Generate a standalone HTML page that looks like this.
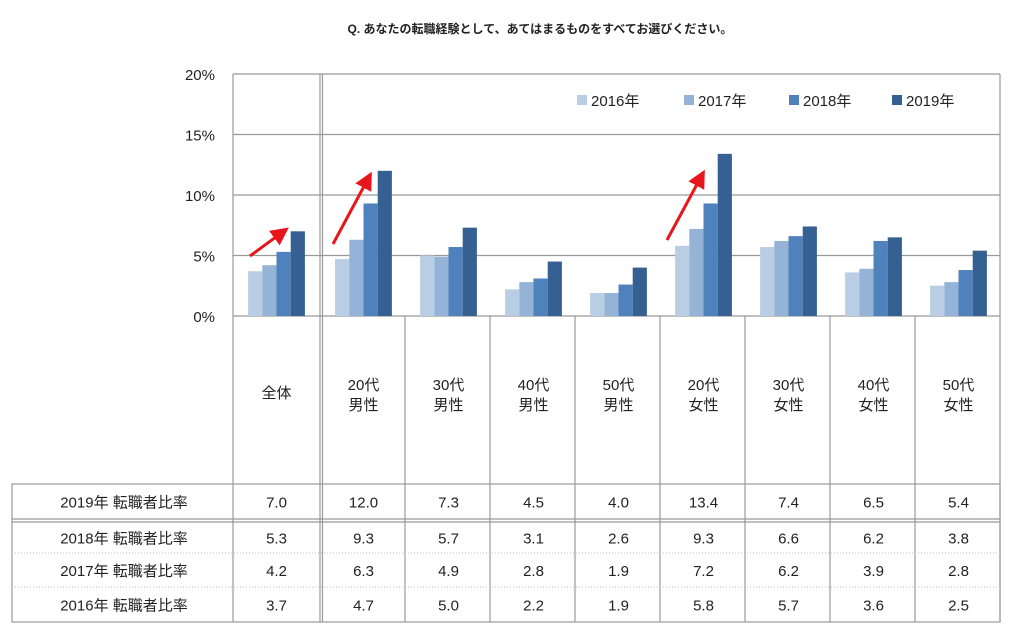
<!DOCTYPE html>
<html><head><meta charset="utf-8"><style>
body{margin:0;background:#fff;}
svg text{font-family:"Liberation Sans","Noto Sans CJK JP",sans-serif;fill:#222;}
</style></head><body>
<svg id="c" width="1024" height="637" viewBox="0 0 1024 637" xmlns="http://www.w3.org/2000/svg">
<text x="540" y="33" text-anchor="middle" font-size="12" font-weight="bold">Q.  あなたの転職経験として、あてはまるものをすべてお選びください。</text>
<g id="grid"></g><g id="bars"></g><g id="tbl"></g><g id="legend"></g>
<defs><marker id="ah" markerWidth="6" markerHeight="6" refX="4" refY="3" orient="auto"><path d="M0,0 L6,3 L0,6 z" fill="#e8161b"/></marker></defs>
<g stroke="#e8161b" stroke-width="3" marker-end="url(#ah)">
<line x1="250" y1="256" x2="284" y2="231"/>
<line x1="333" y1="244" x2="369" y2="177"/>
<line x1="667" y1="240" x2="702" y2="175"/>
</g>
</svg>
<script>
const categories=[["全体"],["20代","男性"],["30代","男性"],["40代","男性"],["50代","男性"],["20代","女性"],["30代","女性"],["40代","女性"],["50代","女性"]];
const seriesNames=["2016年","2017年","2018年","2019年"];
const s2016=[3.7,4.7,5.0,2.2,1.9,5.8,5.7,3.6,2.5];
const s2017=[4.2,6.3,4.9,2.8,1.9,7.2,6.2,3.9,2.8];
const s2018=[5.3,9.3,5.7,3.1,2.6,9.3,6.6,6.2,3.8];
const s2019=[7.0,12.0,7.3,4.5,4.0,13.4,7.4,6.5,5.4];
const yTicks=[0,5,10,15,20];
const colors=["#b9cde5","#95b3d7","#4f81bd","#376092"];
const NS="http://www.w3.org/2000/svg";
function mk(t,a,p){const e=document.createElementNS(NS,t);for(const k in a)e.setAttribute(k,a[k]);p.appendChild(e);return e;}
const bounds=[233,320];for(let i=1;i<=8;i++)bounds.push(320+i*(1000-320)/8);
const y=v=>316-v*(242/20);
const grid=document.getElementById('grid'),bars=document.getElementById('bars'),tbl=document.getElementById('tbl'),lg=document.getElementById('legend');
yTicks.forEach(t=>{
 const l=mk('line',{x1:233,x2:1000,y1:y(t),y2:y(t),stroke:'#999','stroke-width':1.3},grid);
 
 
 const tx=mk('text',{x:215,y:y(t)+6,'text-anchor':'end','font-size':15},grid);tx.textContent=t+'%';
 
 
});
// vertical lines
bounds.forEach((b,i)=>{
 const top=(i===0||i===1||i===9)?74:316;
 const l=mk('line',{x1:b,x2:b,y1:top,y2:622,stroke:'#999','stroke-width':1.2},grid);
 
 
 if(i===1){const l2=mk('line',{x1:b+2.5,x2:b+2.5,y1:74,y2:622,stroke:'#999','stroke-width':1.2},grid);
 
 }
});
const series=[s2016,s2017,s2018,s2019];
categories.forEach((c,i)=>{
 const x0=bounds[i]+(i===0?0:2),x1=bounds[i+1];const cx=(x0+x1)/2;const bw=14.2;
 series.forEach((s,k)=>{
  const r=mk('rect',{x:cx-2*bw+k*bw,y:y(s[i]),width:bw,height:316-y(s[i]),fill:colors[k]},bars);
  
  
 });
 c.forEach((ln,j)=>{const t=mk('text',{x:cx,y:(c.length===1?398:390)+j*20,'text-anchor':'middle','font-size':15},bars);t.textContent=ln;
 
 });
});
// table
const rows=[["2019年 転職者比率",s2019,484,519],["2018年 転職者比率",s2018,522,553],["2017年 転職者比率",s2017,553,587],["2016年 転職者比率",s2016,587,622]];
mk('rect',{x:12,y:484,width:988,height:138,fill:'none',stroke:'#999','stroke-width':1.2},tbl);
mk('line',{x1:12,x2:1000,y1:519,y2:519,stroke:'#999','stroke-width':1.2},tbl);
mk('line',{x1:12,x2:1000,y1:522,y2:522,stroke:'#999','stroke-width':1.2},tbl);
mk('line',{x1:12,x2:233,y1:484,y2:484,stroke:'#999'},tbl);
[553,587].forEach(v=>mk('line',{x1:12,x2:1000,y1:v,y2:v,stroke:'#bbb','stroke-dasharray':'1,2'},tbl));
rows.forEach(r=>{
 const ty=(r[2]+r[3])/2+6;
 const t=mk('text',{x:124,y:ty,'text-anchor':'middle','font-size':15},tbl);t.textContent=r[0];
 
 
 r[1].forEach((v,i)=>{const x0=bounds[i]+(i===0?0:2);const c=mk('text',{x:(x0+bounds[i+1])/2,y:ty,'text-anchor':'middle','font-size':15},tbl);c.textContent=v.toFixed(1);
 
 });
});
// legend
const lx=[577,684,789,892];
seriesNames.forEach((n,k)=>{
 const r=mk('rect',{x:lx[k],y:95,width:10,height:10,fill:colors[k]},lg);
 
 
 const t=mk('text',{x:lx[k]+14,y:106,'font-size':15},lg);t.textContent=n;
 
 
});
</script>
</body></html>
